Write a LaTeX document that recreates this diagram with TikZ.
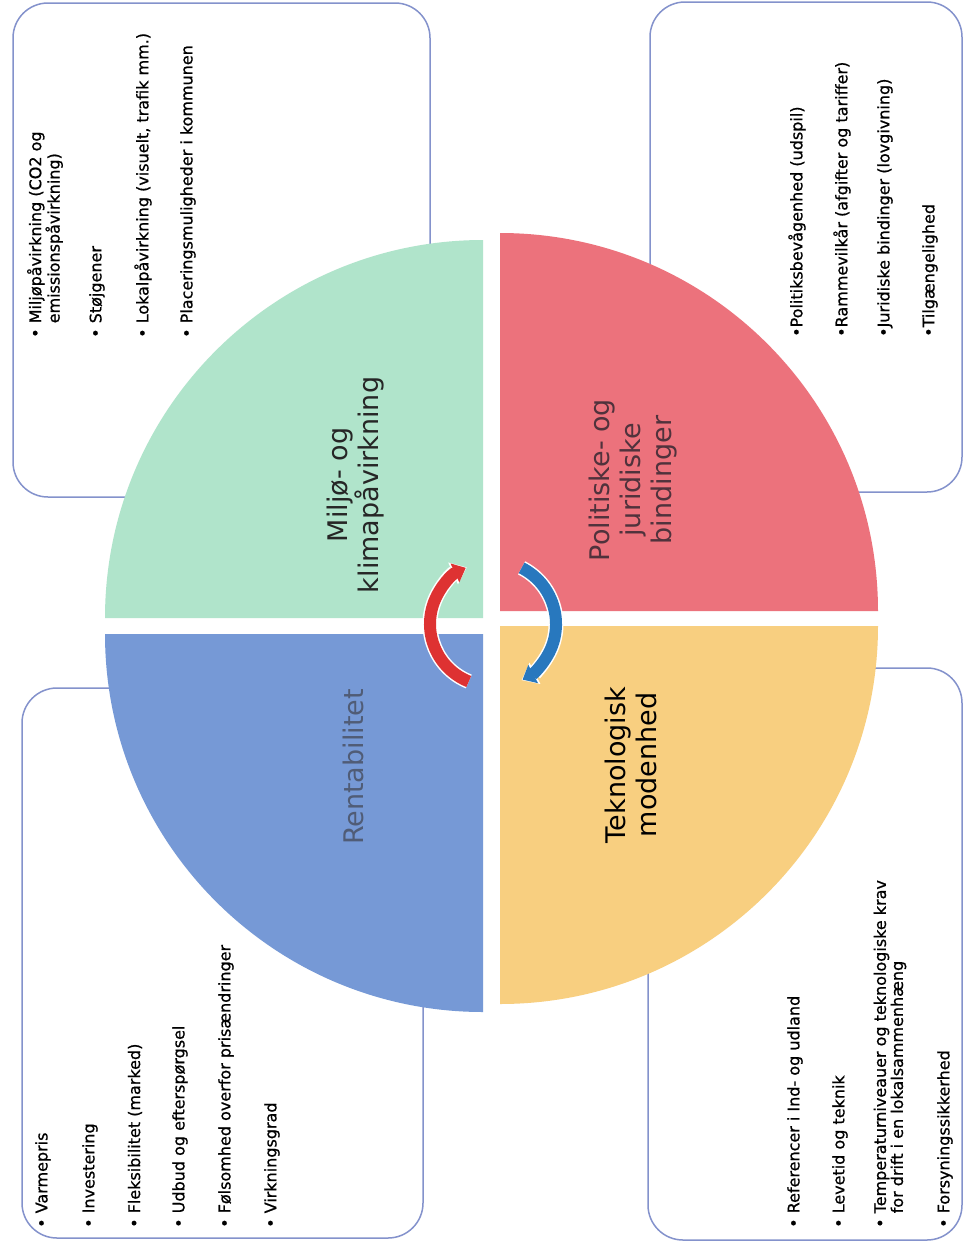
\documentclass[tikz,border=0pt]{standalone}
\usepackage{fontspec}
\setmainfont{DejaVu Sans}
\newfontfamily\itemfont[FakeBold=0.8]{DejaVu Sans}
\usetikzlibrary{arrows.meta}
\definecolor{qgreen}{RGB}{176,228,203}
\definecolor{qred}{RGB}{236,114,124}
\definecolor{qblue}{RGB}{118,153,214}
\definecolor{qyellow}{RGB}{248,207,128}
\definecolor{boxline}{RGB}{132,146,204}
\definecolor{arrred}{RGB}{222,50,50}
\definecolor{arrblue}{RGB}{40,120,190}
\definecolor{poltext}{RGB}{80,50,60}
\definecolor{renttext}{RGB}{80,92,118}
\begin{document}
\begin{tikzpicture}[x=1pt,y=-1pt,
  infobox/.style={draw=boxline,line width=1.5pt,rounded corners=35pt,fill=white},
  item/.style={rotate=90,anchor=west,inner sep=0pt,font=\itemfont\fontsize{16}{17}\selectfont,text=black,align=left},
  qlabel/.style={rotate=90,inner sep=0pt,align=center,font=\fontsize{27}{31}\selectfont},
  cycw/.style={line width=15pt,white},
  cyc/.style={line width=12pt}]
\useasboundingbox (0,0) rectangle (964,1251);
\fill[white] (0,0) rectangle (964,1251);
% info boxes
\draw[infobox] (13,3) rectangle (430,497);
\draw[infobox] (650,2) rectangle (962,492);
\draw[infobox] (22,688) rectangle (423,1238);
\draw[infobox] (648,668) rectangle (962,1240);
% quadrants
\fill[qgreen] (483,618) -- ++(180:378) arc[start angle=180,end angle=270,radius=378] -- cycle;
\fill[qred] (500,611) -- ++(270:378) arc[start angle=270,end angle=360,radius=378] -- cycle;
\fill[qyellow] (500,626) -- ++(0:378) arc[start angle=0,end angle=90,radius=378] -- cycle;
\fill[qblue] (483,634) -- ++(90:378) arc[start angle=90,end angle=180,radius=378] -- cycle;
% cycle arrows
\coordinate (cr) at (492,624);
\coordinate (cb) at (493,624);
\draw[cycw,-{Triangle[width=23pt,length=15pt]}] ([shift={(112:62)}]cr) arc[start angle=112,end angle=246,radius=62];
\draw[cycw,-{Triangle[width=23pt,length=15pt]}] ([shift={(-63:63)}]cb) arc[start angle=-63,end angle=63,radius=63];
\draw[cyc,arrred,-{Triangle[width=20pt,length=12pt]}] ([shift={(112:62)}]cr) arc[start angle=112,end angle=245,radius=62];
\draw[cyc,arrblue,-{Triangle[width=20pt,length=12pt]}] ([shift={(-63:63)}]cb) arc[start angle=-63,end angle=62,radius=63];
% quadrant labels
\node[qlabel,text=black!85] (miljo) at (356,485) {Miljø- og\\klimapåvirkning};
\node[qlabel,text=poltext] (polit) at (633,480) {Politiske- og\\juridiske\\bindinger};
\node[qlabel,text=renttext] (rent) at (353,767) {Rentabilitet};
\node[qlabel,text=black] (tekn) at (631,765) {Teknologisk\\modenhed};
% top-left items
\node[item] (tl1) at (45,338) {• Miljøpåvirkning (CO2 og\\\hphantom{• }emissionspåvirkning)};
\node[item] (tl2) at (97,338) {• Støjgener};
\node[item] (tl3) at (143,338) {• Lokalpåvirkning (visuelt, trafik mm.)};
\node[item] (tl4) at (188,338) {• Placeringsmuligheder i kommunen};
% top-right items
\node[item] (tr1) at (797,337) {•Politiksbevågenhed (udspil)};
\node[item] (tr2) at (842,337) {•Rammevilkår (afgifter og tariffer)};
\node[item] (tr3) at (885,337) {•Juridiske bindinger (lovgivning)};
\node[item] (tr4) at (930,337) {•Tilgængelighed};
% bottom-left items
\node[item] (bl1) at (43,1228) {• Varmepris};
\node[item] (bl2) at (90,1228) {• Investering};
\node[item] (bl3) at (135,1228) {• Fleksibilitet (marked)};
\node[item] (bl4) at (180,1228) {• Udbud og efterspørgsel};
\node[item] (bl5) at (226,1228) {• Følsomhed overfor prisændringer};
\node[item] (bl6) at (272,1228) {• Virkningsgrad};
% bottom-right items
\node[item] (br1) at (795,1228) {• Referencer i Ind- og udland};
\node[item] (br2) at (840,1228) {• Levetid og teknik};
\node[item] (br3) at (890,1228) {• Temperaturniveauer og teknologiske krav\\\hphantom{• }for drift i en lokalsammenhæng};
\node[item] (br4) at (945,1228) {• Forsyningssikkerhed};
\end{tikzpicture}
\end{document}
